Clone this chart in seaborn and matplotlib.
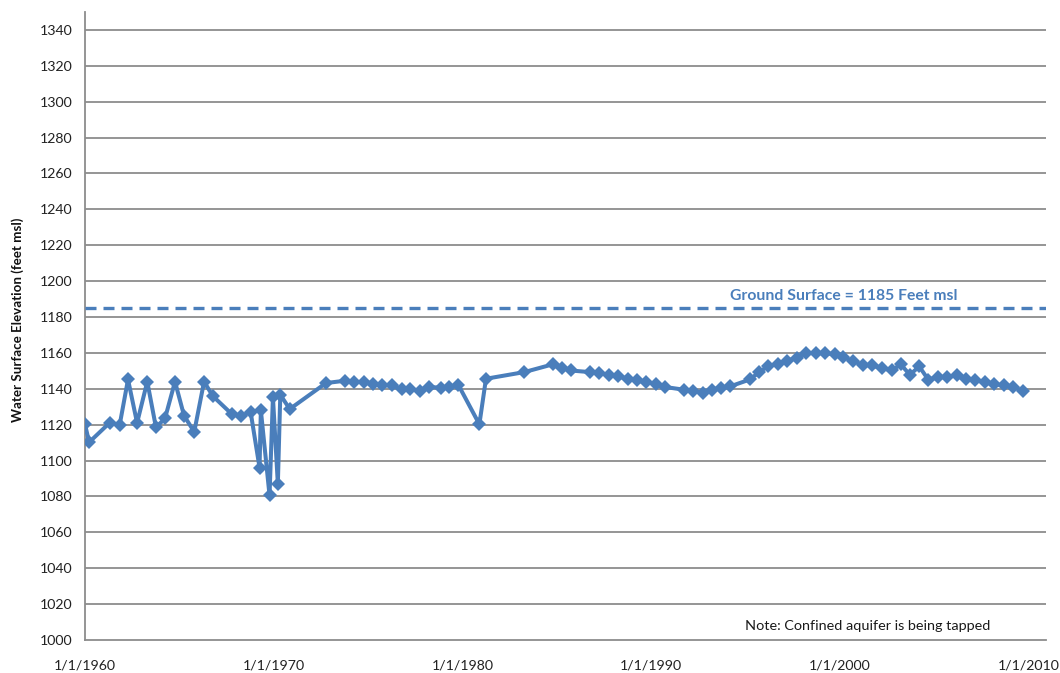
import numpy as np
import pandas as pd
import matplotlib
matplotlib.use("Agg")
import matplotlib.pyplot as plt
import seaborn as sns

# Decimal year of each measurement
years = [1960.00, 1960.22, 1961.30, 1961.84, 1962.28, 1962.76, 1963.30, 1963.76, 1964.24,
         1964.77, 1965.25, 1965.79, 1966.31, 1966.77, 1967.77, 1968.25, 1968.78,
         1969.25, 1969.32, 1969.78, 1969.96, 1970.22, 1970.35, 1970.85,
         1972.77, 1973.78, 1974.26, 1974.79, 1975.28, 1975.76, 1976.29, 1976.78,
         1977.22, 1977.75, 1978.25, 1978.87, 1979.31, 1979.78, 1980.90, 1981.25,
         1983.28, 1984.78, 1985.29, 1985.74, 1986.76, 1987.26, 1987.79, 1988.26,
         1988.76, 1989.23, 1989.75, 1990.26, 1990.74, 1991.74, 1992.24, 1992.73,
         1993.21, 1993.70, 1994.18, 1995.24, 1995.73, 1996.18, 1996.71, 1997.22,
         1997.72, 1998.19, 1998.72, 1999.22, 1999.75, 2000.19, 2000.68, 2001.21,
         2001.69, 2002.22, 2002.75, 2003.23, 2003.72, 2004.21, 2004.69, 2005.22,
         2005.70, 2006.19, 2006.69, 2007.17, 2007.70, 2008.17, 2008.70, 2009.19,
         2009.72]
elevation = [1120.2, 1110.2, 1121.0, 1120.0, 1145.2, 1121.0, 1144.0, 1118.5, 1123.5,
             1144.0, 1125.0, 1116.0, 1144.0, 1136.0, 1126.0, 1125.0, 1126.9,
             1096.1, 1128.0, 1080.6, 1135.3, 1087.0, 1136.7, 1128.7,
             1143.2, 1144.5, 1143.8, 1143.8, 1142.8, 1141.9, 1141.9, 1139.9,
             1140.0, 1138.8, 1141.0, 1140.6, 1141.0, 1142.3, 1120.2, 1145.6,
             1149.3, 1153.6, 1151.7, 1150.2, 1149.3, 1149.0, 1147.5, 1146.9,
             1145.6, 1144.7, 1143.6, 1142.9, 1141.0, 1139.5, 1138.8, 1137.8,
             1139.5, 1140.6, 1141.3, 1145.2, 1149.3, 1152.5, 1154.0, 1155.5,
             1157.4, 1159.9, 1159.9, 1159.9, 1159.2, 1157.7, 1155.5, 1153.4,
             1153.0, 1151.6, 1150.2, 1153.6, 1147.8, 1152.5, 1145.1, 1146.5,
             1146.5, 1147.5, 1145.6, 1144.7, 1143.8, 1142.5, 1141.9, 1141.0,
             1138.8]

ground_surface = 1185
ground_label = "Ground Surface = 1185 Feet msl"
note_text = "Note: Confined aquifer is being tapped"
y_label = "Water Surface Elevation (feet msl)"
x_tick_years = [1960, 1970, 1980, 1990, 2000, 2010]
x_tick_labels = ["1/1/1960", "1/1/1970", "1/1/1980", "1/1/1990", "1/1/2000", "1/1/2010"]
y_ticks = list(range(1000, 1341, 20))

df = pd.DataFrame({"year": years, "elevation": elevation})

sns.set_theme(style="white")
plt.rcParams["font.family"] = ["Lato", "DejaVu Sans"]

blue = "#4A7EBB"
grid_grey = "#8C8C8C"

fig = plt.figure(figsize=(10.6, 6.73), dpi=100)
ax = fig.add_axes([85 / 1060, 1 - 640 / 673, (1046 - 85) / 1060, (640 - 12) / 673])

sns.lineplot(data=df, x="year", y="elevation", ax=ax, sort=False, color=blue,
             linewidth=2.9, marker="D", markersize=7.5, markeredgewidth=0,
             markerfacecolor=blue, zorder=3)

ax.axhline(ground_surface, color=blue, linewidth=2.4, linestyle=(0, (3.3, 2.1)), zorder=3)
ax.text(2000.2, ground_surface + 2.6, ground_label, color=blue, fontsize=11.3,
        fontweight="bold", ha="center", va="bottom")
ax.text(2001.5, 1004.5, note_text, color="#1a1a1a", fontsize=10.4, ha="center", va="bottom")

ax.set_xlim(1960, 2010.93)
ax.set_ylim(1000, 1350)
ax.set_yticks(y_ticks)
ax.set_yticklabels([str(v) for v in y_ticks])
ax.set_xticks(x_tick_years)
ax.set_xticklabels(x_tick_labels)

for v in y_ticks[1:]:
    ax.axhline(v, color=grid_grey, linewidth=1.3, zorder=1)

for s in ["top", "right"]:
    ax.spines[s].set_visible(False)
for s in ["left", "bottom"]:
    ax.spines[s].set_color(grid_grey)
    ax.spines[s].set_linewidth(1.3)

ax.tick_params(axis="both", which="both", direction="out", length=5, width=1.2,
               color=grid_grey, labelsize=10.2, labelcolor="#222222")
ax.tick_params(axis="y", pad=4)
ax.tick_params(axis="x", pad=9)

ax.set_xlabel("")
ax.set_ylabel("")
fig.text(18 / 1060, 1 - 320 / 673, y_label, rotation=90, fontsize=9.6,
         fontweight="bold", color="#111111", ha="center", va="center")

fig.savefig("out.png", dpi=100)
